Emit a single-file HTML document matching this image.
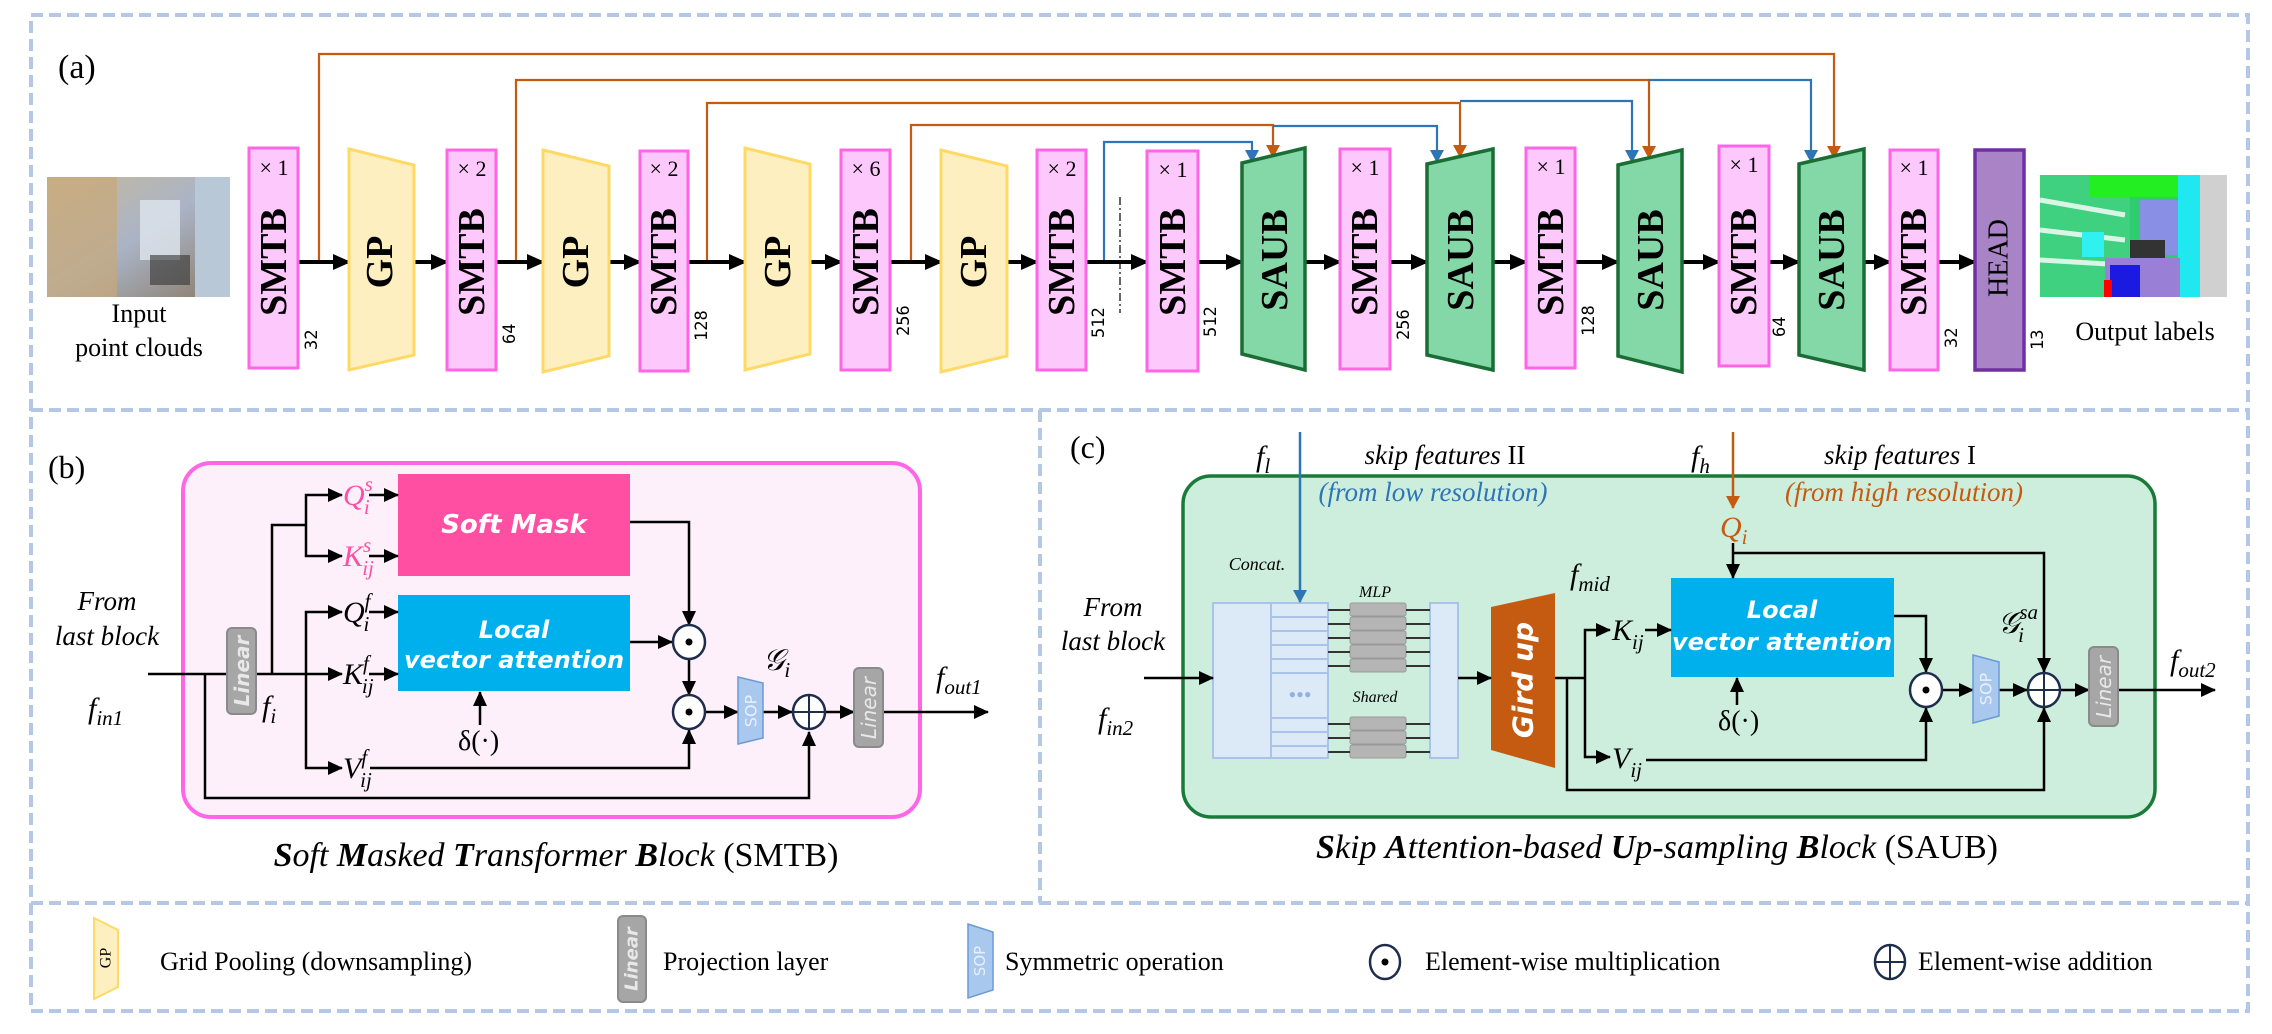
<!DOCTYPE html>
<html><head><meta charset="utf-8"><style>
html,body{margin:0;padding:0;background:#fff}
svg{display:block}
text{font-family:"Liberation Serif",serif}
.it{font-style:italic}
.sans{font-family:"DejaVu Sans","Liberation Sans",sans-serif}
.mono{font-family:"DejaVu Sans Mono","Liberation Mono",monospace}
</style></head><body>
<svg width="2272" height="1034" viewBox="0 0 2272 1034" xmlns="http://www.w3.org/2000/svg">
<defs>
<marker id="ab" markerUnits="userSpaceOnUse" markerWidth="20" markerHeight="20" refX="16" refY="10" orient="auto"><path d="M0,2 L18,10 L0,18 Z" fill="#000"/></marker>
<marker id="as" markerUnits="userSpaceOnUse" markerWidth="16" markerHeight="16" refX="14" refY="8" orient="auto"><path d="M0,1 L15,8 L0,15 Z" fill="#000"/></marker>
<marker id="ao" markerUnits="userSpaceOnUse" markerWidth="14" markerHeight="18" refX="12" refY="8" orient="auto"><path d="M0,1 L13,8 L0,15 Z" fill="#c55a11"/></marker>
<marker id="abl" markerUnits="userSpaceOnUse" markerWidth="14" markerHeight="18" refX="12" refY="8" orient="auto"><path d="M0,1 L13,8 L0,15 Z" fill="#2e75b6"/></marker>
<linearGradient id="room" x1="0" y1="0" x2="1" y2="1"><stop offset="0" stop-color="#c9b89a"/><stop offset="0.5" stop-color="#aab4c6"/><stop offset="1" stop-color="#8a7a66"/></linearGradient>
</defs>

<g fill="none" stroke="#b4c7e7" stroke-width="4" stroke-dasharray="12,6">
<rect x="31" y="15" width="2217" height="996"/>
<line x1="31" y1="410" x2="2248" y2="410"/>
<line x1="31" y1="903" x2="2248" y2="903"/>
<line x1="1040" y1="410" x2="1040" y2="903"/>
</g>

<!-- ===== Panel (a) ===== -->
<text x="58" y="78" font-size="34">(a)</text>
<rect x="47" y="177" width="183" height="120" fill="url(#room)"/>
<rect x="47" y="177" width="70" height="120" fill="#c8a878" opacity="0.7"/>
<rect x="140" y="200" width="40" height="60" fill="#dfe6ee" opacity="0.8"/>
<rect x="195" y="177" width="35" height="120" fill="#b9c8d6"/>
<rect x="150" y="255" width="40" height="30" fill="#333" opacity="0.6"/>
<text x="139" y="322" font-size="26" text-anchor="middle">Input</text>
<text x="139" y="356" font-size="26" text-anchor="middle">point clouds</text>
<rect x="2040" y="175" width="187" height="122" fill="#2ecc71"/>
<rect x="2040" y="175" width="90" height="122" fill="#3fd080"/>
<g stroke="#ffffff" stroke-width="5" opacity="0.8"><line x1="2040" y1="200" x2="2125" y2="215"/><line x1="2040" y1="230" x2="2125" y2="240"/><line x1="2040" y1="260" x2="2125" y2="265"/></g>
<rect x="2090" y="175" width="90" height="22" fill="#22ee22"/>
<rect x="2140" y="200" width="40" height="55" fill="#8a8fe6"/>
<rect x="2178" y="175" width="22" height="122" fill="#20e8f0"/>
<rect x="2200" y="175" width="27" height="122" fill="#d0d0d0"/>
<rect x="2130" y="240" width="35" height="25" fill="#333"/>
<rect x="2105" y="258" width="75" height="39" fill="#9a7fd6"/>
<rect x="2110" y="265" width="30" height="32" fill="#1a1ae0"/>
<rect x="2104" y="280" width="8" height="17" fill="#ff0000"/>
<rect x="2082" y="232" width="22" height="25" fill="#30f0f0"/>
<text x="2145" y="340" font-size="26" text-anchor="middle">Output labels</text>

<g fill="none" stroke-width="2.2">
<path d="M319,262 V54 H1834 V158" stroke="#c55a11" marker-end="url(#ao)"/>
<path d="M516,262 V80 H1649 V158" stroke="#c55a11" marker-end="url(#ao)"/>
<path d="M707,262 V103 H1460 V157" stroke="#c55a11" marker-end="url(#ao)"/>
<path d="M911,262 V125 H1273 V157" stroke="#c55a11" marker-end="url(#ao)"/>
<path d="M1104,262 V142 H1252 V162" stroke="#2e75b6" marker-end="url(#abl)"/>
<path d="M1273,126 H1437 V162" stroke="#2e75b6" marker-end="url(#abl)"/>
<path d="M1460,101 H1632 V162" stroke="#2e75b6" marker-end="url(#abl)"/>
<path d="M1649,80 H1811 V162" stroke="#2e75b6" marker-end="url(#abl)"/>
</g>
<line x1="1120" y1="197" x2="1120" y2="313" stroke="#000" stroke-width="1.2" stroke-dasharray="8,3,2,3"/>

<g stroke="#000" stroke-width="4" marker-end="url(#ab)">
<line x1="298" y1="262" x2="349" y2="262"/><line x1="414" y1="262" x2="447" y2="262"/>
<line x1="496" y1="262" x2="543" y2="262"/><line x1="609" y1="262" x2="640" y2="262"/>
<line x1="688" y1="262" x2="745" y2="262"/><line x1="810" y1="262" x2="841" y2="262"/>
<line x1="890" y1="262" x2="941" y2="262"/><line x1="1007" y1="262" x2="1037" y2="262"/>
<line x1="1086" y1="262" x2="1147" y2="262"/><line x1="1198" y1="262" x2="1242" y2="262"/>
<line x1="1305" y1="262" x2="1340" y2="262"/><line x1="1390" y1="262" x2="1427" y2="262"/>
<line x1="1493" y1="262" x2="1526" y2="262"/><line x1="1575" y1="262" x2="1618" y2="262"/>
<line x1="1682" y1="262" x2="1719" y2="262"/><line x1="1769" y1="262" x2="1799" y2="262"/>
<line x1="1864" y1="262" x2="1890" y2="262"/><line x1="1938" y1="262" x2="1975" y2="262"/>
</g>

<g fill="#fdc8fb" stroke="#ff66e6" stroke-width="3">
<rect x="249" y="148" width="49" height="220"/><rect x="447" y="150" width="49" height="220"/>
<rect x="640" y="151" width="48" height="220"/><rect x="841" y="150" width="49" height="220"/>
<rect x="1037" y="150" width="49" height="220"/><rect x="1147" y="151" width="51" height="220"/>
<rect x="1340" y="149" width="50" height="220"/><rect x="1526" y="148" width="49" height="220"/>
<rect x="1719" y="146" width="50" height="220"/><rect x="1890" y="150" width="48" height="220"/>
</g>
<g fill="#fdefc0" stroke="#ffd966" stroke-width="3">
<polygon points="349,149 414,165 414,355 349,370"/><polygon points="543,150 609,166 609,356 543,372"/>
<polygon points="745,148 810,164 810,354 745,370"/><polygon points="941,150 1007,166 1007,356 941,372"/>
</g>
<g fill="#84d8a8" stroke="#1a6e35" stroke-width="3.5">
<polygon points="1242,163 1305,148 1305,370 1242,354"/><polygon points="1427,164 1493,149 1493,370 1427,355"/>
<polygon points="1618,165 1682,150 1682,372 1618,356"/><polygon points="1799,164 1864,149 1864,370 1799,355"/>
</g>
<rect x="1975" y="150" width="49" height="220" fill="#a883c6" stroke="#7030a0" stroke-width="3.5"/>

<g font-size="38" font-weight="bold" text-anchor="middle" dominant-baseline="central">
<text transform="translate(274,262) rotate(-90)">SMTB</text><text transform="translate(472,262) rotate(-90)">SMTB</text>
<text transform="translate(664,262) rotate(-90)">SMTB</text><text transform="translate(866,262) rotate(-90)">SMTB</text>
<text transform="translate(1062,262) rotate(-90)">SMTB</text><text transform="translate(1173,262) rotate(-90)">SMTB</text>
<text transform="translate(1365,262) rotate(-90)">SMTB</text><text transform="translate(1551,262) rotate(-90)">SMTB</text>
<text transform="translate(1744,262) rotate(-90)">SMTB</text><text transform="translate(1914,262) rotate(-90)">SMTB</text>
<text transform="translate(380,262) rotate(-90)">GP</text><text transform="translate(576,262) rotate(-90)">GP</text>
<text transform="translate(778,262) rotate(-90)">GP</text><text transform="translate(974,262) rotate(-90)">GP</text>
<text transform="translate(1275,260) rotate(-90)">SAUB</text><text transform="translate(1461,260) rotate(-90)">SAUB</text>
<text transform="translate(1651,260) rotate(-90)">SAUB</text><text transform="translate(1832,260) rotate(-90)">SAUB</text>
<text transform="translate(1999,258) rotate(-90)" font-weight="normal" font-size="28">HEAD</text>
</g>
<g font-size="22" text-anchor="middle">
<text x="274" y="175">× 1</text><text x="472" y="176">× 2</text><text x="664" y="176">× 2</text>
<text x="866" y="176">× 6</text><text x="1062" y="176">× 2</text><text x="1173" y="177">× 1</text>
<text x="1365" y="175">× 1</text><text x="1551" y="174">× 1</text><text x="1744" y="172">× 1</text><text x="1914" y="175">× 1</text>
</g>
<g font-size="17" dominant-baseline="central">
<text class="mono" transform="translate(312,350) rotate(-90)">32</text>
<text class="mono" transform="translate(510,344) rotate(-90)">64</text>
<text class="mono" transform="translate(702,341) rotate(-90)">128</text>
<text class="mono" transform="translate(904,336) rotate(-90)">256</text>
<text class="mono" transform="translate(1099,338) rotate(-90)">512</text>
<text class="mono" transform="translate(1211,337) rotate(-90)">512</text>
<text class="mono" transform="translate(1404,340) rotate(-90)">256</text>
<text class="mono" transform="translate(1589,336) rotate(-90)">128</text>
<text class="mono" transform="translate(1780,337) rotate(-90)">64</text>
<text class="mono" transform="translate(1952,348) rotate(-90)">32</text>
<text class="mono" transform="translate(2038,350) rotate(-90)">13</text>
</g>

<!-- ===== Panel (b) ===== -->
<text x="48" y="478" font-size="32">(b)</text>
<rect x="183" y="463" width="737" height="354" rx="28" fill="#fdf0fb" stroke="#ff66e6" stroke-width="4"/>
<rect x="398" y="474" width="232" height="102" fill="#ff4fa3"/>
<rect x="398" y="595" width="232" height="96" fill="#00b0ec"/>
<text x="514" y="533" font-size="26" fill="#fff" font-weight="bold" font-style="italic" text-anchor="middle" class="sans">Soft Mask</text>
<text x="514" y="638" font-size="24" fill="#fff" font-weight="bold" font-style="italic" text-anchor="middle" class="sans">Local</text>
<text x="514" y="668" font-size="24" fill="#fff" font-weight="bold" font-style="italic" text-anchor="middle" class="sans">vector attention</text>
<g fill="none" stroke="#000" stroke-width="2.5">
<line x1="148" y1="674" x2="227" y2="674"/>
<path d="M256,674 H306" />
<path d="M272,674 V525 H306"/>
<path d="M205,674 V798 H809 V732" marker-end="url(#as)"/>
<path d="M306,525 V495 H342" marker-end="url(#as)"/>
<path d="M306,525 V556 H342" marker-end="url(#as)"/>
<path d="M306,674 V612 H342" marker-end="url(#as)"/>
<path d="M306,674 H342" marker-end="url(#as)"/>
<path d="M306,674 V768 H342" marker-end="url(#as)"/>
<line x1="369" y1="495" x2="398" y2="495" marker-end="url(#as)"/>
<line x1="369" y1="556" x2="398" y2="556" marker-end="url(#as)"/>
<line x1="369" y1="612" x2="398" y2="612" marker-end="url(#as)"/>
<line x1="369" y1="674" x2="398" y2="674" marker-end="url(#as)"/>
<path d="M630,522 H689 V625" marker-end="url(#as)"/>
<line x1="630" y1="642" x2="672" y2="642" marker-end="url(#as)"/>
<line x1="689" y1="659" x2="689" y2="695" marker-end="url(#as)"/>
<path d="M370,768 H689 V730" marker-end="url(#as)"/>
<line x1="480" y1="725" x2="480" y2="692" marker-end="url(#as)"/>
<line x1="706" y1="712" x2="738" y2="712" marker-end="url(#as)"/>
<line x1="763" y1="712" x2="792" y2="712" marker-end="url(#as)"/>
<line x1="826" y1="712" x2="854" y2="712" marker-end="url(#as)"/>
<line x1="883" y1="712" x2="988" y2="712" marker-end="url(#as)"/>
</g>
<g fill="#fff" stroke="#1f2d4d" stroke-width="2.5">
<ellipse cx="689" cy="642" rx="16" ry="17"/><ellipse cx="689" cy="712" rx="16" ry="17"/><ellipse cx="809" cy="712" rx="16" ry="17"/>
</g>
<circle cx="689" cy="642" r="3.5" fill="#000"/><circle cx="689" cy="712" r="3.5" fill="#000"/>
<path d="M793,712 H825 M809,695 V729" stroke="#1f2d4d" stroke-width="2"/>
<rect x="227" y="628" width="29" height="86" rx="5" fill="#a6a6a6" stroke="#8a8a8a" stroke-width="2"/>
<text transform="translate(242,671) rotate(-90)" font-size="20" fill="#e8e8e8" font-weight="bold" font-style="italic" text-anchor="middle" dominant-baseline="central" class="sans">Linear</text>
<rect x="854" y="668" width="29" height="79" rx="5" fill="#a6a6a6" stroke="#8a8a8a" stroke-width="2"/>
<text transform="translate(869,708) rotate(-90)" font-size="20" fill="#e8e8e8" font-style="italic" text-anchor="middle" dominant-baseline="central" class="sans">Linear</text>
<polygon points="738,677 763,683 763,738 738,744" fill="#a9c8ee" stroke="#6b9bd6" stroke-width="1.5"/>
<text transform="translate(751,711) rotate(-90)" font-size="16" fill="#e8f0ff" text-anchor="middle" dominant-baseline="central" class="sans">SOP</text>
<g font-size="30" class="it">
<text x="343" y="505" fill="#ff4fa3">Q<tspan font-size="21" dy="-14">s</tspan><tspan font-size="21" dx="-9" dy="23">i</tspan></text>
<text x="343" y="566" fill="#ff4fa3">K<tspan font-size="21" dy="-14">s</tspan><tspan font-size="21" dx="-9" dy="23">ij</tspan></text>
<text x="343" y="622">Q<tspan font-size="21" dy="-14">f</tspan><tspan font-size="21" dx="-7" dy="23">i</tspan></text>
<text x="343" y="684">K<tspan font-size="21" dy="-14">f</tspan><tspan font-size="21" dx="-7" dy="23">ij</tspan></text>
<text x="343" y="778">V<tspan font-size="21" dy="-14">f</tspan><tspan font-size="21" dx="-7" dy="23">ij</tspan></text>
<text x="262" y="716">f<tspan font-size="21" dy="7">i</tspan></text>
<text x="88" y="718">f<tspan font-size="21" dy="7">in1</tspan></text>
<text x="763" y="670">𝒢<tspan font-size="21" dy="7">i</tspan></text>
<text x="936" y="687">f<tspan font-size="21" dy="7">out1</tspan></text>
<text x="107" y="610" text-anchor="middle" font-size="27">From</text>
<text x="107" y="645" text-anchor="middle" font-size="27">last block</text>
</g>
<text x="458" y="750" font-size="28">δ(·)</text>
<text x="556" y="866" font-size="34" text-anchor="middle" class="it"><tspan font-weight="bold">S</tspan>oft <tspan font-weight="bold">M</tspan>asked <tspan font-weight="bold">T</tspan>ransformer <tspan font-weight="bold">B</tspan>lock <tspan font-style="normal">(SMTB)</tspan></text>

<!-- ===== Panel (c) ===== -->
<text x="1070" y="458" font-size="32">(c)</text>
<rect x="1183" y="476" width="972" height="341" rx="28" fill="#cdeedd" stroke="#1a7a3a" stroke-width="3.5"/>
<g font-size="27" class="it">
<text x="1256" y="466" font-size="30">f<tspan font-size="21" dy="7">l</tspan></text>
<text x="1445" y="464" text-anchor="middle">skip features <tspan font-style="normal">II</tspan></text>
<text x="1433" y="501" text-anchor="middle" fill="#2e75b6">(from low resolution)</text>
<text x="1691" y="466" font-size="30">f<tspan font-size="21" dy="7">h</tspan></text>
<text x="1900" y="464" text-anchor="middle">skip features <tspan font-style="normal">I</tspan></text>
<text x="1904" y="501" text-anchor="middle" fill="#c55a11">(from high resolution)</text>
<text x="1720" y="537" fill="#c55a11" font-size="30">Q<tspan font-size="21" dy="7">i</tspan></text>
<text x="1113" y="616" text-anchor="middle">From</text>
<text x="1113" y="650" text-anchor="middle">last block</text>
<text x="1098" y="728" font-size="30">f<tspan font-size="21" dy="7">in2</tspan></text>
<text x="1570" y="584" font-size="30">f<tspan font-size="21" dy="7">mid</tspan></text>
<text x="1612" y="640" font-size="30">K<tspan font-size="21" dy="9">ij</tspan></text>
<text x="1612" y="768" font-size="30">V<tspan font-size="21" dy="9">ij</tspan></text>
<text x="1998" y="633" font-size="30">𝒢<tspan font-size="21" dy="-14">sa</tspan><tspan font-size="21" dx="-20" dy="23">i</tspan></text>
<text x="2170" y="670" font-size="30">f<tspan font-size="21" dy="7">out2</tspan></text>
</g>
<g font-size="18" class="it">
<text x="1257" y="570" text-anchor="middle">Concat.</text>
<text x="1375" y="597" text-anchor="middle" font-size="16">MLP</text>
<text x="1375" y="702" text-anchor="middle" font-size="16">Shared</text>
</g>
<g fill="#dce9f7" stroke="#a9c4e8" stroke-width="2">
<rect x="1213" y="603" width="58" height="155"/>
<rect x="1271" y="603" width="57" height="155"/>
<rect x="1430" y="603" width="28" height="155"/>
</g>
<g stroke="#a9c4e8" stroke-width="2">
<line x1="1271" y1="617" x2="1328" y2="617"/><line x1="1271" y1="631" x2="1328" y2="631"/>
<line x1="1271" y1="645" x2="1328" y2="645"/><line x1="1271" y1="659" x2="1328" y2="659"/>
<line x1="1271" y1="673" x2="1328" y2="673"/><line x1="1271" y1="718" x2="1328" y2="718"/>
<line x1="1271" y1="732" x2="1328" y2="732"/><line x1="1271" y1="746" x2="1328" y2="746"/>
</g>
<text x="1300" y="702" font-size="22" fill="#8fb3e0" text-anchor="middle">•••</text>
<g fill="#b5b5b5" stroke="#999" stroke-width="1">
<rect x="1350" y="603" width="56" height="13" rx="2"/><rect x="1350" y="617" width="56" height="13" rx="2"/>
<rect x="1350" y="631" width="56" height="13" rx="2"/><rect x="1350" y="645" width="56" height="13" rx="2"/>
<rect x="1350" y="659" width="56" height="13" rx="2"/><rect x="1350" y="717" width="56" height="13" rx="2"/>
<rect x="1350" y="731" width="56" height="13" rx="2"/><rect x="1350" y="745" width="56" height="13" rx="2"/>
</g>
<g stroke="#333" stroke-width="2">
<path d="M1328,610H1350M1328,624H1350M1328,638H1350M1328,652H1350M1328,666H1350M1328,724H1350M1328,738H1350M1328,752H1350"/>
<path d="M1406,610H1430M1406,624H1430M1406,638H1430M1406,652H1430M1406,666H1430M1406,724H1430M1406,738H1430M1406,752H1430"/>
</g>
<line x1="1300" y1="432" x2="1300" y2="602" stroke="#2e75b6" stroke-width="2.5" marker-end="url(#abl)"/>
<line x1="1733" y1="432" x2="1733" y2="508" stroke="#c55a11" stroke-width="2.5" marker-end="url(#ao)"/>
<polygon points="1491,607 1555,593 1555,768 1491,750" fill="#c55a11"/>
<text transform="translate(1523,680) rotate(-90)" font-size="28" fill="#fff" font-weight="bold" font-style="italic" text-anchor="middle" dominant-baseline="central" class="sans">Gird  up</text>
<rect x="1671" y="578" width="223" height="99" fill="#00b0ec"/>
<text x="1782" y="618" font-size="24" fill="#fff" font-weight="bold" font-style="italic" text-anchor="middle" class="sans">Local</text>
<text x="1782" y="650" font-size="24" fill="#fff" font-weight="bold" font-style="italic" text-anchor="middle" class="sans">vector attention</text>
<g fill="none" stroke="#000" stroke-width="2.5">
<line x1="1144" y1="678" x2="1213" y2="678" marker-end="url(#as)"/>
<line x1="1458" y1="678" x2="1491" y2="678" marker-end="url(#as)"/>
<path d="M1555,678 H1585"/>
<path d="M1585,678 V630 H1610" marker-end="url(#as)"/>
<path d="M1585,678 V757 H1610" marker-end="url(#as)"/>
<path d="M1567,678 V790 H2044 V708" marker-end="url(#as)"/>
<line x1="1645" y1="630" x2="1671" y2="630" marker-end="url(#as)"/>
<path d="M1733,543 V578" marker-end="url(#as)"/>
<path d="M1733,553 H2044 V672" marker-end="url(#as)"/>
<path d="M1894,616 H1926 V672" marker-end="url(#as)"/>
<path d="M1646,760 H1926 V708" marker-end="url(#as)"/>
<line x1="1737" y1="705" x2="1737" y2="678" marker-end="url(#as)"/>
<line x1="1943" y1="690" x2="1973" y2="690" marker-end="url(#as)"/>
<line x1="1999" y1="690" x2="2027" y2="690" marker-end="url(#as)"/>
<line x1="2061" y1="690" x2="2089" y2="690" marker-end="url(#as)"/>
<line x1="2118" y1="690" x2="2215" y2="690" marker-end="url(#as)"/>
</g>
<text x="1718" y="730" font-size="28">δ(·)</text>
<g fill="#fff" stroke="#1f2d4d" stroke-width="2.5">
<ellipse cx="1926" cy="690" rx="16" ry="17"/><ellipse cx="2044" cy="690" rx="16" ry="17"/>
</g>
<circle cx="1926" cy="690" r="3.5" fill="#000"/>
<path d="M2028,690 H2060 M2044,673 V707" stroke="#1f2d4d" stroke-width="2"/>
<polygon points="1973,655 1999,662 1999,716 1973,723" fill="#a9c8ee" stroke="#6b9bd6" stroke-width="1.5"/>
<text transform="translate(1986,689) rotate(-90)" font-size="16" fill="#e8f0ff" text-anchor="middle" dominant-baseline="central" class="sans">SOP</text>
<rect x="2089" y="647" width="29" height="79" rx="5" fill="#a6a6a6" stroke="#8a8a8a" stroke-width="2"/>
<text transform="translate(2104,687) rotate(-90)" font-size="20" fill="#e8e8e8" font-style="italic" text-anchor="middle" dominant-baseline="central" class="sans">Linear</text>
<text x="1657" y="858" font-size="34" text-anchor="middle" class="it"><tspan font-weight="bold">S</tspan>kip <tspan font-weight="bold">A</tspan>ttention-based <tspan font-weight="bold">U</tspan>p-sampling <tspan font-weight="bold">B</tspan>lock <tspan font-style="normal">(SAUB)</tspan></text>

<!-- ===== Legend ===== -->
<polygon points="94,918 118,930 118,987 94,999" fill="#fdefc0" stroke="#ffd966" stroke-width="2"/>
<text transform="translate(106,958) rotate(-90)" font-size="16" text-anchor="middle" dominant-baseline="central">GP</text>
<text x="160" y="970" font-size="26">Grid Pooling (downsampling)</text>
<rect x="618" y="916" width="28" height="86" rx="5" fill="#a6a6a6" stroke="#8a8a8a" stroke-width="2"/>
<text transform="translate(632,959) rotate(-90)" font-size="18" fill="#e8e8e8" font-weight="bold" font-style="italic" text-anchor="middle" dominant-baseline="central" class="sans">Linear</text>
<text x="663" y="970" font-size="26">Projection layer</text>
<polygon points="968,924 993,932 993,990 968,998" fill="#a9c8ee" stroke="#6b9bd6" stroke-width="1.5"/>
<text transform="translate(980,961) rotate(-90)" font-size="15" fill="#e8f0ff" text-anchor="middle" dominant-baseline="central" class="sans">SOP</text>
<text x="1005" y="970" font-size="26">Symmetric operation</text>
<ellipse cx="1385" cy="962" rx="15" ry="17" fill="#fff" stroke="#1f2d4d" stroke-width="2.5"/>
<circle cx="1385" cy="962" r="3.5" fill="#000"/>
<text x="1425" y="970" font-size="26">Element-wise multiplication</text>
<ellipse cx="1890" cy="962" rx="15" ry="17" fill="#fff" stroke="#1f2d4d" stroke-width="2.5"/>
<path d="M1875,962 H1905 M1890,945 V979" stroke="#1f2d4d" stroke-width="2"/>
<text x="1918" y="970" font-size="26">Element-wise addition</text>
</svg>
</body></html>
